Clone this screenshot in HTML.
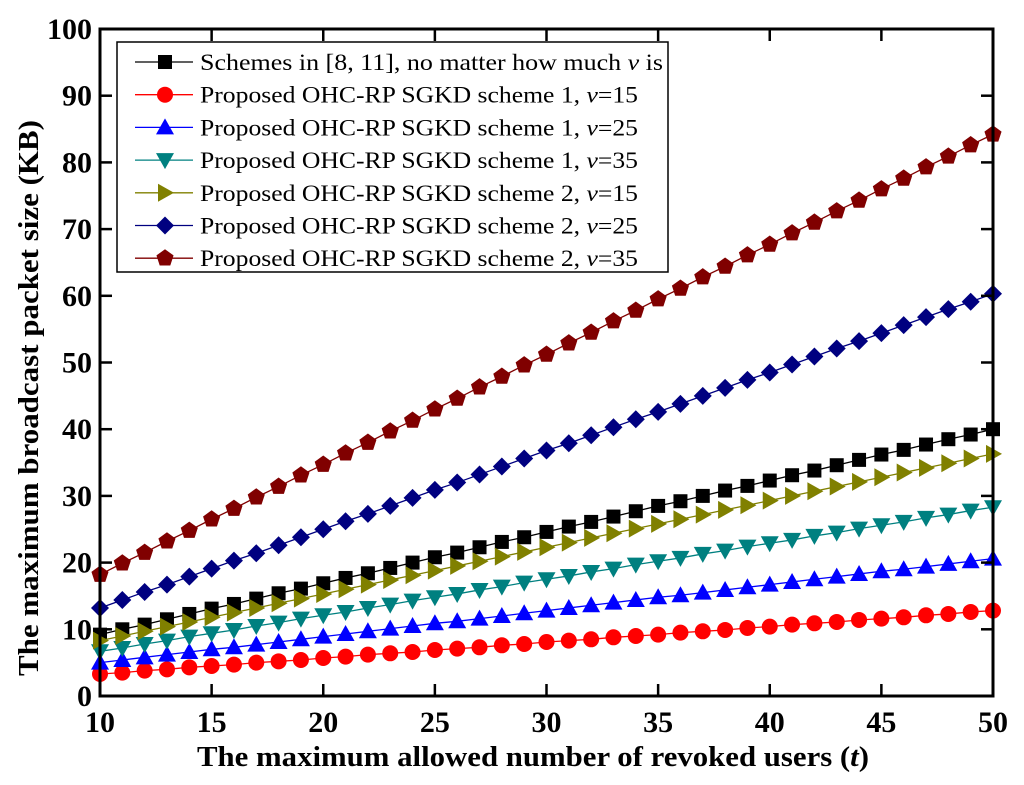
<!DOCTYPE html>
<html><head><meta charset="utf-8"><style>
body{margin:0;background:#fff;}
svg{display:block;font-family:"Liberation Serif",serif;}
</style></head><body>
<svg id="chart" width="1024" height="785" xmlns="http://www.w3.org/2000/svg">
<g id="marks"></g>
<g id="axes"></g>
<text x="533" y="766" text-anchor="middle" font-size="28" font-weight="bold" textLength="672" lengthAdjust="spacingAndGlyphs">The maximum allowed number of revoked users (<tspan font-style="italic">t</tspan>)</text>
<text transform="translate(38,398) rotate(-90)" text-anchor="middle" font-size="28" font-weight="bold" textLength="556" lengthAdjust="spacingAndGlyphs">The maximum broadcast packet size (KB)</text>
<g id="legend"></g>
</svg>
<script>
const tVals=[10,11,12,13,14,15,16,17,18,19,20,21,22,23,24,25,26,27,28,29,30,31,32,33,34,35,36,37,38,39,40,41,42,43,44,45,46,47,48,49,50];
const xTicks=[10,15,20,25,30,35,40,45,50];
const yTicks=[0,10,20,30,40,50,60,70,80,90,100];
const sBlack=[9.2,10.0,10.7,11.5,12.3,13.1,13.8,14.6,15.4,16.1,16.9,17.7,18.4,19.2,20.0,20.8,21.5,22.3,23.1,23.8,24.6,25.4,26.1,26.9,27.7,28.5,29.2,30.0,30.8,31.5,32.3,33.1,33.8,34.6,35.4,36.2,36.9,37.7,38.5,39.2,40.0];
const sRed=[3.3,3.5,3.8,4.0,4.3,4.5,4.7,5.0,5.2,5.4,5.7,5.9,6.2,6.4,6.6,6.9,7.1,7.3,7.6,7.8,8.1,8.3,8.5,8.8,9.0,9.2,9.5,9.7,9.9,10.2,10.4,10.7,10.9,11.1,11.4,11.6,11.8,12.1,12.3,12.6,12.8];
const sBlue=[5.0,5.4,5.8,6.2,6.6,7.0,7.3,7.7,8.1,8.5,8.9,9.3,9.7,10.1,10.5,10.9,11.2,11.6,12.0,12.4,12.8,13.2,13.6,14.0,14.4,14.8,15.1,15.5,15.9,16.3,16.7,17.1,17.5,17.9,18.3,18.7,19.0,19.4,19.8,20.2,20.6];
const sTeal=[6.7,7.2,7.8,8.3,8.9,9.4,9.9,10.5,11.0,11.6,12.1,12.6,13.2,13.7,14.3,14.8,15.3,15.9,16.4,17.0,17.5,18.0,18.6,19.1,19.7,20.2,20.7,21.3,21.8,22.4,22.9,23.4,24.0,24.5,25.1,25.6,26.1,26.7,27.2,27.8,28.3];
const sOlive=[8.3,9.0,9.7,10.4,11.1,11.8,12.5,13.2,13.9,14.6,15.3,16.0,16.7,17.4,18.1,18.8,19.5,20.2,20.9,21.6,22.3,23.0,23.7,24.4,25.1,25.8,26.5,27.2,27.9,28.6,29.3,30.0,30.7,31.4,32.1,32.8,33.5,34.2,34.9,35.6,36.3];
const sNavy=[13.2,14.4,15.6,16.7,17.9,19.1,20.3,21.4,22.6,23.8,25.0,26.2,27.3,28.5,29.7,30.9,32.0,33.2,34.4,35.6,36.8,37.9,39.1,40.3,41.5,42.6,43.8,45.0,46.2,47.4,48.5,49.7,50.9,52.1,53.2,54.4,55.6,56.8,58.0,59.1,60.3];
const sDarkRed=[18.2,19.9,21.5,23.2,24.8,26.5,28.1,29.8,31.4,33.1,34.7,36.4,38.0,39.7,41.3,43.0,44.6,46.3,47.9,49.6,51.2,52.9,54.5,56.2,57.8,59.5,61.1,62.8,64.4,66.1,67.7,69.4,71.0,72.7,74.3,76.0,77.6,79.3,80.9,82.6,84.2];
const labels=["Schemes  in [8, 11], no matter how much |v| is","Proposed OHC-RP SGKD scheme 1, |v|=15","Proposed OHC-RP SGKD scheme 1, |v|=25","Proposed OHC-RP SGKD scheme 1, |v|=35","Proposed OHC-RP SGKD scheme 2, |v|=15","Proposed OHC-RP SGKD scheme 2, |v|=25","Proposed OHC-RP SGKD scheme 2, |v|=35"];
const series=[
 {d:sBlack,c:"#000000",lc:"#000000",m:"square",n:"series-schemes-8-11"},
 {d:sRed,c:"#ff0000",lc:"#ff0000",m:"circle",n:"series-s1-v15"},
 {d:sBlue,c:"#0000ff",lc:"#0000ff",m:"up",n:"series-s1-v25"},
 {d:sTeal,c:"#008080",lc:"#008080",m:"down",n:"series-s1-v35"},
 {d:sOlive,c:"#808000",lc:"#808000",m:"right",n:"series-s2-v15"},
 {d:sNavy,c:"#000080",lc:"#000080",m:"diamond",n:"series-s2-v25"},
 {d:sDarkRed,c:"#800000",lc:"#800000",m:"pentagon",n:"series-s2-v35"}];
const X0=100,X1=993,Y0=696,Y1=29;
const xs=v=>X0+(v-10)/40*(X1-X0);
const ys=v=>Y0-(v/100)*(Y0-Y1);
const NS="http://www.w3.org/2000/svg";
function mk(tag,attrs,parent){const e=document.createElementNS(NS,tag);for(const k in attrs)e.setAttribute(k,attrs[k]);parent.appendChild(e);return e;}
function marker(type,x,y,c,parent){
 let e;
 if(type==="square")e=mk("rect",{x:x-7,y:y-7,width:14,height:14,fill:c},parent);
 else if(type==="circle")e=mk("circle",{cx:x,cy:y,r:8,fill:c},parent);
 else{let p;
  if(type==="up")p=[[x,y-9],[x+9,y+7],[x-9,y+7]];
  else if(type==="down")p=[[x,y+9],[x+9,y-7],[x-9,y-7]];
  else if(type==="right")p=[[x+9,y],[x-7,y-9],[x-7,y+9]];
  else if(type==="diamond")p=[[x,y-9],[x+9,y],[x,y+9],[x-9,y]];
  else{p=[];for(let i=0;i<5;i++){const a=-Math.PI/2+i*2*Math.PI/5;p.push([x+9*Math.cos(a),y+9*Math.sin(a)]);}}
  e=mk("polygon",{points:p.map(q=>q.join(",")).join(" "),fill:c},parent);}
 return e;}
const marks=document.getElementById("marks");
series.forEach(s=>{
 const g=mk("g",{},marks);
 
 
 const pts=s.d.map((v,i)=>xs(tVals[i])+","+ys(v)).join(" ");
 const pl=mk("polyline",{points:pts,fill:"none",stroke:s.lc,"stroke-width":1.3},g);
 
 
 s.d.forEach((v,i)=>{const m=marker(s.m,xs(tVals[i]),ys(v),s.c,g);
  
  });
});
const axes=document.getElementById("axes");
const frame=mk("rect",{x:X0,y:Y1,width:X1-X0,height:Y0-Y1,fill:"none",stroke:"#000","stroke-width":3},axes);


xTicks.forEach(v=>{const x=xs(v);
 mk("line",{x1:x,y1:Y0,x2:x,y2:Y0-12,stroke:"#000","stroke-width":2.5},axes);
 mk("line",{x1:x,y1:Y1,x2:x,y2:Y1+12,stroke:"#000","stroke-width":2.5},axes);
 const t=mk("text",{x:x,y:Y0+36,"text-anchor":"middle","font-size":30,"font-weight":"bold"},axes);t.textContent=v;
 
 });
yTicks.forEach(v=>{const y=ys(v);
 mk("line",{x1:X0,y1:y,x2:X0+12,y2:y,stroke:"#000","stroke-width":2.5},axes);
 mk("line",{x1:X1,y1:y,x2:X1-12,y2:y,stroke:"#000","stroke-width":2.5},axes);
 const t=mk("text",{x:X0-8,y:y+10,"text-anchor":"end","font-size":30,"font-weight":"bold"},axes);t.textContent=v;
 
 });
const leg=document.getElementById("legend");
const lb=mk("rect",{x:117,y:42,width:551,height:230,fill:"#fff",stroke:"#000","stroke-width":1.5},leg);


series.forEach((s,i)=>{const y=62+i*32.7;
 const g=mk("g",{},leg);
 
 
 mk("line",{x1:135,y1:y,x2:193,y2:y,stroke:s.lc,"stroke-width":1.3},g);
 marker(s.m,165,y,s.c,g);
 const t=mk("text",{x:200,y:y+8,"font-size":23,textLength:(i===0?463:438),lengthAdjust:"spacingAndGlyphs"},g);
 const parts=labels[i].split("|");
 parts.forEach((p,j)=>{const ts=mk("tspan",{},t);ts.textContent=p;if(j===1)ts.setAttribute("font-style","italic");});
});
</script>
</body></html>
